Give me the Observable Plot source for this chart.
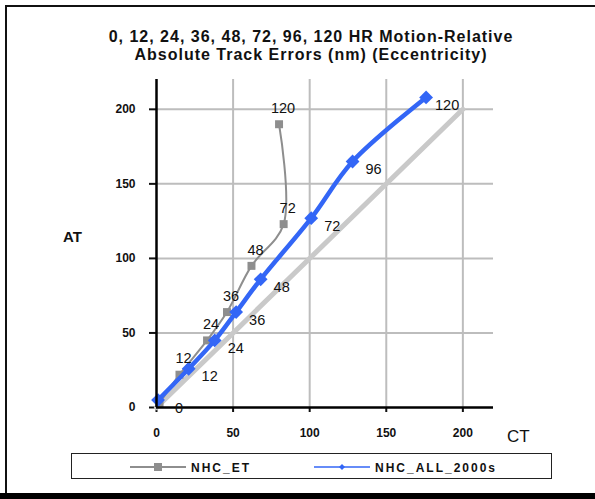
<!DOCTYPE html>
<html>
<head>
<meta charset="utf-8">
<script src="https://cdn.jsdelivr.net/npm/d3@7"></script>
<script src="https://cdn.jsdelivr.net/npm/@observablehq/plot@0.6"></script>
<style>
  html, body { margin: 0; padding: 0; background: #fff; }
  #wrap { position: relative; width: 595px; height: 499px; overflow: hidden; background: #fff; font-family: "Liberation Sans", Arial, sans-serif; }
  #wrap svg.plot { position: absolute; left: 0; top: 0; }
  .frameTop { position: absolute; left: 5px; top: 5px; width: 590px; height: 2px; background: #111; }
  .frameLeft { position: absolute; left: 5px; top: 5px; width: 2px; height: 490px; background: #111; }
  .frameBottom { position: absolute; left: 0; top: 493px; width: 595px; height: 6px; background: #000; }
  .title { position: absolute; left: 0; width: 622px; text-align: center; font-weight: bold; font-size: 16px; letter-spacing: 1px; color: #111; line-height: 18px; top: 28px; }
  .atlab { position: absolute; left: 63px; top: 228px; font-weight: bold; font-size: 15px; color: #111; }
  .ctlab { position: absolute; left: 507px; top: 427px; font-size: 17px; color: #111; }
  .legend { position: absolute; left: 71px; top: 453px; width: 479px; height: 24px; border: 1px solid #222; }
  .legend svg { position: absolute; left: 0; top: 0; }
</style>
</head>
<body>
<div id="wrap">
  <div class="frameTop"></div>
  <div class="frameLeft"></div>
  <div class="frameBottom"></div>
  <div class="title">0, 12, 24, 36, 48, 72, 96, 120 HR Motion-Relative<br>Absolute Track Errors (nm) (Eccentricity)</div>
  <div class="atlab">AT</div>
  <div class="ctlab">CT</div>
  <div class="legend" id="legend"></div>
</div>
<script>
// ---- data ----
const etHours = [0, 12, 24, 36, 48, 72, 120];
const etCT = [2, 15, 33, 46, 62, 83, 80];
const etAT = [3, 22, 45, 64, 95, 123, 190];

const allHours = [0, 12, 24, 36, 48, 72, 96, 120];
const allCT = [1, 21, 38, 52, 68, 101, 128, 176];
const allAT = [5, 26, 45, 64, 86, 127, 165, 208];

const refCT = [0, 200];
const refAT = [0, 200];

const xTicks = [0, 50, 100, 150, 200];
const yTicks = [0, 50, 100, 150, 200];
const seriesNames = ["NHC_ET", "NHC_ALL_2000s"];

const et = etHours.map((h, i) => ({h, ct: etCT[i], at: etAT[i]}));
const all = allHours.map((h, i) => ({h, ct: allCT[i], at: allAT[i]}));
const ref = refCT.map((c, i) => ({ct: c, at: refAT[i]}));

const gray = "#8e8e8e";
const blue = "#3366f6";

// square rotated 45 degrees
const rhombus = {
  draw(context, size) {
    const s = Math.sqrt(size / 2);
    context.moveTo(0, -s);
    context.lineTo(s, 0);
    context.lineTo(0, s);
    context.lineTo(-s, 0);
    context.closePath();
  }
};

const chart = Plot.plot({
  width: 595,
  height: 499,
  marginLeft: 156,
  marginRight: 102,
  marginTop: 79,
  marginBottom: 92,
  style: {fontFamily: "Liberation Sans, Arial, sans-serif", background: "transparent", color: "#111"},
  x: {domain: [0, 220]},
  y: {domain: [0, 220]},
  marks: [
    Plot.gridX(xTicks.filter(d => d > 0), {stroke: "#bdbdbd", strokeOpacity: 1, strokeWidth: 2}),
    Plot.gridY(yTicks.filter(d => d > 0), {stroke: "#bdbdbd", strokeOpacity: 1, strokeWidth: 2}),
    Plot.axisX(xTicks, {tickSize: 5, tickPadding: 16, fontSize: 12, fontWeight: "bold", letterSpacing: "1px", label: null, strokeWidth: 2}),
    Plot.axisY(yTicks, {tickSize: 7, tickPadding: 14, fontSize: 12, fontWeight: "bold", letterSpacing: "1px", label: null, strokeWidth: 2}),
    Plot.line(ref, {x: "ct", y: "at", stroke: "#c9c9c9", strokeWidth: 5}),
    Plot.line(et, {x: "ct", y: "at", stroke: gray, strokeWidth: 2, curve: "catmull-rom"}),
    Plot.dot(et, {x: "ct", y: "at", symbol: "square", r: 4.5, fill: gray, stroke: "none"}),
    Plot.line(all, {x: "ct", y: "at", stroke: blue, strokeWidth: 4.5, curve: "catmull-rom"}),
    Plot.dot(all, {x: "ct", y: "at", symbol: rhombus, r: 5.5, fill: blue, stroke: "none"}),
    Plot.ruleX([0], {stroke: "#000", strokeWidth: 2.5}),
    Plot.ruleY([0], {stroke: "#000", strokeWidth: 2.5}),
    Plot.text(et.filter(d => d.h > 0), {x: "ct", y: "at", text: d => String(d.h), dx: 4, dy: -16, fontSize: 14.5, fill: "#111"}),
    Plot.text(all, {x: "ct", y: "at", text: d => String(d.h), dx: 21, dy: 8, fontSize: 14.5, fill: "#111"})
  ]
});
chart.classList.add("plot");
document.getElementById("wrap").insertBefore(chart, document.querySelector(".title"));

// legend
const ns = "http://www.w3.org/2000/svg";
const lg = document.createElementNS(ns, "svg");
lg.setAttribute("width", 479);
lg.setAttribute("height", 24);
const items = [
  {name: seriesNames[0], color: gray, x0: 58, sym: "square"},
  {name: seriesNames[1], color: blue, x0: 242, sym: "diamond"}
];
for (const it of items) {
  const ln = document.createElementNS(ns, "line");
  ln.setAttribute("x1", it.x0); ln.setAttribute("x2", it.x0 + 56);
  ln.setAttribute("y1", 13); ln.setAttribute("y2", 13);
  ln.setAttribute("stroke", it.color); ln.setAttribute("stroke-width", it.sym === "square" ? 2 : 1.5);
  lg.appendChild(ln);
  const cx = it.x0 + 28;
  const mk = document.createElementNS(ns, "path");
  if (it.sym === "square") mk.setAttribute("d", `M${cx-4},9h8v8h-8z`);
  else mk.setAttribute("d", `M${cx},10l3,3l-3,3l-3,-3z`);
  mk.setAttribute("fill", it.color);
  lg.appendChild(mk);
  const tx = document.createElementNS(ns, "text");
  tx.setAttribute("x", it.x0 + 61); tx.setAttribute("y", 17.5);
  tx.setAttribute("font-size", 12); tx.setAttribute("font-weight", "bold");
  tx.setAttribute("letter-spacing", "2px");
  tx.setAttribute("font-family", "Liberation Sans, Arial, sans-serif");
  tx.setAttribute("fill", "#111");
  tx.textContent = it.name;
  lg.appendChild(tx);
}
document.getElementById("legend").appendChild(lg);
</script>
</body>
</html>
